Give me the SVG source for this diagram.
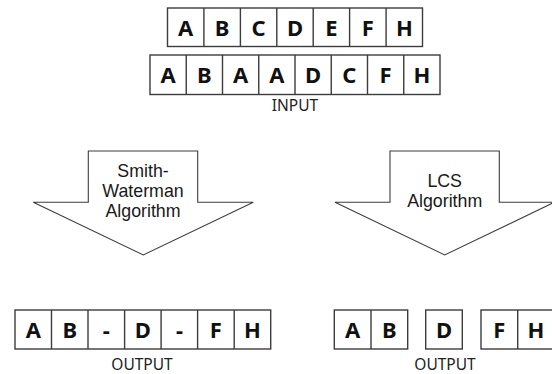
<svg xmlns="http://www.w3.org/2000/svg" width="552" height="374" viewBox="0 0 552 374">
  <style>
    .cell { fill: #ffffff; stroke: #3c3c3c; stroke-width: 1.4; }
    .ch { font-family: "Noto Sans", "Open Sans", sans-serif; font-weight: bold; font-size: 22px; fill: #111111; text-anchor: middle; }
    .lbl { font-family: "Noto Sans", "Open Sans", sans-serif; font-size: 15.5px; fill: #222222; text-anchor: middle; }
    .arrow { fill: #ffffff; stroke: #3c3c3c; stroke-width: 1.1; stroke-linejoin: miter; }
    .atxt { font-family: "Liberation Sans", Arial, sans-serif; font-size: 17.8px; fill: #1a1a1a; text-anchor: middle; }
  </style>
  <rect width="552" height="374" fill="#ffffff"/>

  <!-- input sequences -->
  <g id="input-seq-1">
    <rect class="cell" x="167.5" y="8" width="255" height="38.5"/>
    <path class="cell" d="M203.9 8V46.5M240.4 8V46.5M276.8 8V46.5M313.2 8V46.5M349.6 8V46.5M386.1 8V46.5"/>
    <g class="ch">
      <text x="185.7" y="35.8">A</text><text x="222.1" y="35.8">B</text><text x="258.6" y="35.8">C</text>
      <text x="295" y="35.8">D</text><text x="331.4" y="35.8">E</text><text x="367.9" y="35.8">F</text>
      <text x="404.3" y="35.8">H</text>
    </g>
  </g>
  <g id="input-seq-2">
    <rect class="cell" x="150" y="55" width="290" height="39.5"/>
    <path class="cell" d="M186.25 55V94.5M222.5 55V94.5M258.75 55V94.5M295 55V94.5M331.25 55V94.5M367.5 55V94.5M403.75 55V94.5"/>
    <g class="ch">
      <text x="168.1" y="83">A</text><text x="204.4" y="83">B</text><text x="240.6" y="83">A</text>
      <text x="276.9" y="83">A</text><text x="313.1" y="83">D</text><text x="349.4" y="83">C</text>
      <text x="385.6" y="83">F</text><text x="421.9" y="83">H</text>
    </g>
  </g>
  <text id="input-label" class="lbl" x="295" y="111">INPUT</text>

  <!-- algorithm block arrows -->
  <g id="smith-waterman">
    <path class="arrow" d="M88.3 151H197.7V202.3H253.3L143.3 255L33.3 202.3H88.3Z"/>
    <text class="atxt" x="143" y="176.7">Smith-</text>
    <text class="atxt" x="143" y="196.9">Waterman</text>
    <text class="atxt" x="143" y="217.1">Algorithm</text>
  </g>
  <g id="lcs">
    <path class="arrow" d="M390 151H499.3V202.3H554.3L444.7 255L335 202.3H390Z"/>
    <text class="atxt" x="444.7" y="186.7">LCS</text>
    <text class="atxt" x="444.7" y="207.2">Algorithm</text>
  </g>

  <!-- outputs -->
  <g id="output-sw">
    <rect class="cell" x="15" y="310" width="255.7" height="39"/>
    <path class="cell" d="M51.5 310V349M88 310V349M124.6 310V349M161.1 310V349M197.6 310V349M234.2 310V349"/>
    <g class="ch">
      <text x="33.3" y="337.8">A</text><text x="69.8" y="337.8">B</text><text x="106.3" y="337.8">-</text>
      <text x="142.9" y="337.8">D</text><text x="179.4" y="337.8">-</text><text x="215.9" y="337.8">F</text>
      <text x="252.4" y="337.8">H</text>
    </g>
    <text class="lbl" x="142" y="370">OUTPUT</text>
  </g>
  <g id="output-lcs">
    <rect class="cell" x="334.3" y="310" width="73.4" height="39"/>
    <path class="cell" d="M371 310V349"/>
    <rect class="cell" x="425.7" y="310" width="36.6" height="39"/>
    <rect class="cell" x="481" y="310" width="73.3" height="39"/>
    <path class="cell" d="M517.7 310V349"/>
    <g class="ch">
      <text x="352.7" y="337.8">A</text><text x="389.4" y="337.8">B</text>
      <text x="444" y="337.8">D</text>
      <text x="499.3" y="337.8">F</text><text x="536" y="337.8">H</text>
    </g>
    <text class="lbl" x="445" y="370">OUTPUT</text>
  </g>
</svg>
